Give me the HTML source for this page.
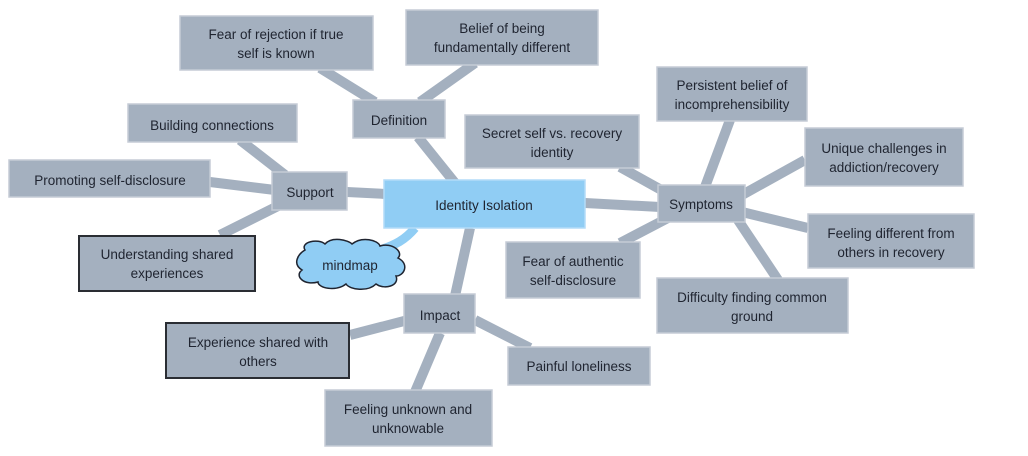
<!DOCTYPE html>
<html><head><meta charset="utf-8"><style>
html,body{margin:0;padding:0;background:#fff;}
svg{display:block}
text{font-family:"Liberation Sans",sans-serif;font-size:13.5px;fill:#1f2430;text-anchor:middle;}
.b{fill:#a4b0bf;stroke:#c5ccd6;stroke-width:1.5}
.d{fill:#a4b0bf;stroke:#2a2d33;stroke-width:2}
.l{stroke:#a4b0bf;stroke-width:10;fill:none;stroke-linecap:butt}
</style></head><body>
<svg width="1028" height="456" viewBox="0 0 1028 456">
<!-- connectors -->
<g class="l">
<path d="M320,68 L375,102"/>
<path d="M475,63 L420,102"/>
<path d="M418,137 L455,183"/>
<path d="M240,140 L285,175"/>
<path d="M210,182 L275,190"/>
<path d="M220,235 L280,205"/>
<path d="M347,192 L386,194"/>
<path d="M585,203 L660,207"/>
<path d="M620,167 L665,192"/>
<path d="M730,120 L705,187"/>
<path d="M805,160 L742,195"/>
<path d="M808,228 L742,212"/>
<path d="M620,243 L668,218"/>
<path d="M738,220 L778,280"/>
<path d="M470,228 L455,296"/>
<path d="M350,335 L408,320"/>
<path d="M475,320 L530,348"/>
<path d="M440,333 L415,392"/>
</g>
<path d="M415,228 C405,240 395,245 380,250" stroke="#90cdf4" stroke-width="9" fill="none"/>
<!-- boxes -->
<rect class="b" x="180" y="16" width="193" height="54"/>
<text x="276" y="39">Fear of rejection if true</text><text x="276" y="58">self is known</text>
<rect class="b" x="406" y="10" width="192" height="55"/>
<text x="502" y="33">Belief of being</text><text x="502" y="52">fundamentally different</text>
<rect class="b" x="353" y="100" width="92" height="38"/>
<text x="399" y="125">Definition</text>
<rect class="b" x="128" y="104" width="169" height="38"/>
<text x="212" y="130">Building connections</text>
<rect class="b" x="9" y="160" width="201" height="37"/>
<text x="110" y="185">Promoting self-disclosure</text>
<rect class="b" x="272" y="172" width="75" height="38"/>
<text x="310" y="197">Support</text>
<rect class="d" x="79" y="236" width="176" height="55"/>
<text x="167" y="259">Understanding shared</text><text x="167" y="278">experiences</text>
<rect x="384" y="180" width="201" height="48" fill="#90cdf4" stroke="#b3dcf8" stroke-width="1.5"/>
<text x="484" y="210">Identity Isolation</text>
<path d="M305,250 C300,242 318,238 325,244 C332,236 348,240 352,244 C362,236 378,240 380,246 C392,242 404,252 398,258 C410,264 404,276 396,276 C400,286 384,290 376,284 C368,292 350,290 346,284 C336,292 318,288 318,282 C304,286 294,276 302,270 C292,264 298,254 305,250 Z" fill="#90cdf4" stroke="#1f2430" stroke-width="1.5"/>
<text x="350" y="270">mindmap</text>
<rect class="b" x="465" y="115" width="174" height="53"/>
<text x="552" y="138">Secret self vs. recovery</text><text x="552" y="157">identity</text>
<rect class="b" x="657" y="67" width="150" height="54"/>
<text x="732" y="90">Persistent belief of</text><text x="732" y="109">incomprehensibility</text>
<rect class="b" x="805" y="128" width="158" height="58"/>
<text x="884" y="153">Unique challenges in</text><text x="884" y="172">addiction/recovery</text>
<rect class="b" x="658" y="185" width="87" height="37"/>
<text x="701" y="209">Symptoms</text>
<rect class="b" x="808" y="214" width="166" height="54"/>
<text x="891" y="238">Feeling different from</text><text x="891" y="257">others in recovery</text>
<rect class="b" x="506" y="242" width="134" height="56"/>
<text x="573" y="266">Fear of authentic</text><text x="573" y="285">self-disclosure</text>
<rect class="b" x="657" y="278" width="191" height="55"/>
<text x="752" y="302">Difficulty finding common</text><text x="752" y="321">ground</text>
<rect class="b" x="404" y="294" width="71" height="39"/>
<text x="440" y="320">Impact</text>
<rect class="d" x="166" y="323" width="183" height="55"/>
<text x="258" y="347">Experience shared with</text><text x="258" y="366">others</text>
<rect class="b" x="508" y="347" width="142" height="38"/>
<text x="579" y="371">Painful loneliness</text>
<rect class="b" x="325" y="390" width="167" height="56"/>
<text x="408" y="414">Feeling unknown and</text><text x="408" y="433">unknowable</text>
</svg>
</body></html>
